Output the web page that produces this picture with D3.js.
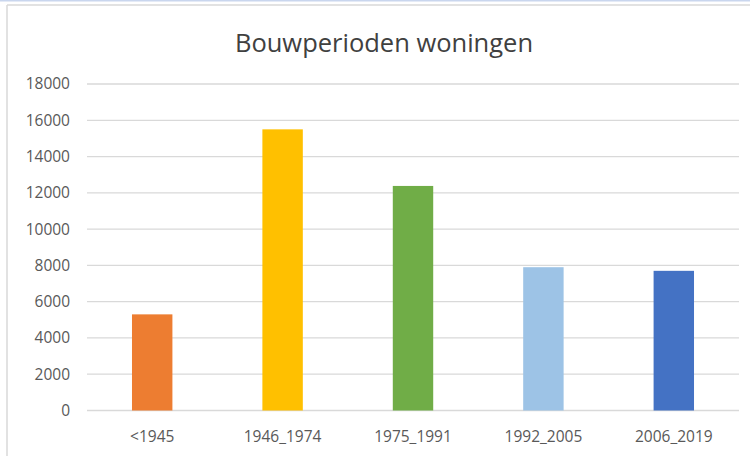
<!DOCTYPE html>
<html>
<head>
<meta charset="utf-8">
<script src="https://cdn.jsdelivr.net/npm/d3@7"></script>
<style>
  html, body { margin: 0; padding: 0; background: #fff; }
  svg { display: block; font-family: "Open Sans", "Noto Sans", sans-serif; }
</style>
</head>
<body>
<svg id="chart" width="750" height="456"></svg>
<script>
/* chart data */
const categories = ['<1945', '1946_1974', '1975_1991', '1992_2005', '2006_2019'];
const values = [5300, 15500, 12380, 7900, 7700];
const barColors = ['#ed7d31', '#ffc000', '#70ad47', '#9dc3e6', '#4472c4'];
const yTicks = [0, 2000, 4000, 6000, 8000, 10000, 12000, 14000, 16000, 18000];

/* frame settings */
const width = 750;
const height = 456;
const margin = { top: 84, right: 11, bottom: 45.5, left: 87 };

const svg = d3.select('#chart');

/* outer frame, like the cropped Excel chart area */
svg.append('rect')
  .attr('x', 0).attr('y', 0).attr('width', width).attr('height', 1.5)
  .attr('fill', '#c9d6ee');
svg.append('line')
  .attr('x1', 7).attr('x2', width).attr('y1', 5).attr('y2', 5)
  .attr('stroke', '#d9d9d9').attr('stroke-width', 1.5);
svg.append('line')
  .attr('x1', 7).attr('x2', 7).attr('y1', 5).attr('y2', height)
  .attr('stroke', '#d9d9d9').attr('stroke-width', 1.5);

/* scales */
const x = d3.scaleBand()
  .domain(categories)
  .range([margin.left, width - margin.right])
  .paddingInner(0.69)
  .paddingOuter(0.345);

const y = d3.scaleLinear()
  .domain([0, 18000])
  .range([height - margin.bottom, margin.top]);

/* gridlines */
svg.append('g')
  .selectAll('line')
  .data(yTicks)
  .join('line')
  .attr('x1', margin.left)
  .attr('x2', width - margin.right)
  .attr('y1', d => y(d))
  .attr('y2', d => y(d))
  .attr('stroke', '#d9d9d9')
  .attr('stroke-width', 1.3);

/* y axis labels, no domain line */
const yAxis = d3.axisLeft(y)
  .tickValues(yTicks)
  .tickFormat(d3.format('d'))
  .tickSize(0)
  .tickPadding(17);
svg.append('g')
  .attr('transform', `translate(${margin.left},0)`)
  .call(yAxis)
  .call(g => g.select('.domain').remove())
  .selectAll('text')
  .attr('fill', '#595959')
  .attr('font-size', 15.5)
  .attr('font-family', '"Open Sans", sans-serif');

/* bars */
svg.append('g')
  .selectAll('rect')
  .data(values)
  .join('rect')
  .attr('x', (d, i) => x(categories[i]))
  .attr('y', d => y(d))
  .attr('width', x.bandwidth())
  .attr('height', d => y(0) - y(d))
  .attr('fill', (d, i) => barColors[i]);

/* x axis labels */
const xAxis = d3.axisBottom(x).tickSize(0).tickPadding(20);
svg.append('g')
  .attr('transform', `translate(0,${y(0)})`)
  .call(xAxis)
  .call(g => g.select('.domain').remove())
  .selectAll('text')
  .attr('fill', '#595959')
  .attr('font-size', 15.5)
  .attr('font-family', '"Open Sans", sans-serif');

/* title */
svg.append('text')
  .attr('x', 384)
  .attr('y', 52)
  .attr('text-anchor', 'middle')
  .attr('fill', '#404040')
  .attr('font-size', 25.5)
  .text('Bouwperioden woningen');
</script>
</body>
</html>
